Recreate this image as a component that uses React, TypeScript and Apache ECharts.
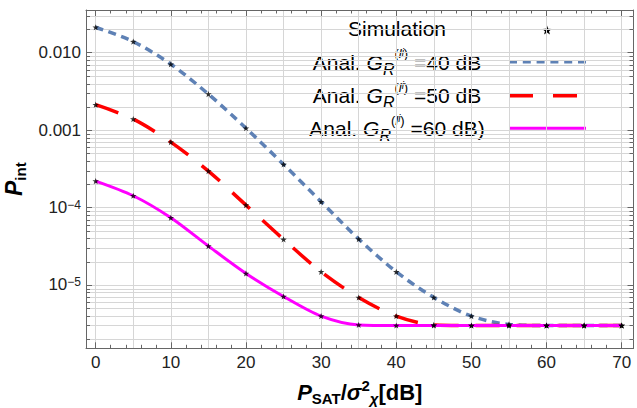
import React, { useEffect, useRef } from 'react';
import * as echarts from 'echarts';

// ---------- data ----------
const xValues = [0, 5, 10, 15, 20, 25, 30, 35, 40, 45, 50, 55, 60, 65, 70];
const pint40dB = [0.0213, 0.0139, 0.0071, 0.00292, 0.00106, 3.61e-4, 1.19e-4, 3.92e-5, 1.48e-5, 6.9e-6, 3.96e-6, 3.1e-6, 3.0e-6, 3.0e-6, 3.0e-6];
const pint50dB = [0.00213, 0.00139, 7.0e-4, 2.96e-4, 1.076e-4, 3.88e-5, 1.48e-5, 6.9e-6, 3.96e-6, 3.05e-6, 3.0e-6, 3.0e-6, 3.0e-6, 3.0e-6, 3.0e-6];
const pint60dB = [2.2e-4, 1.42e-4, 7.38e-5, 3.18e-5, 1.41e-5, 7.1e-6, 3.96e-6, 3.05e-6, 3.0e-6, 3.0e-6, 3.0e-6, 3.0e-6, 3.0e-6, 3.0e-6, 3.0e-6];

const seriesNames = ['G40', 'G50', 'G60'];
const seriesColors = ['#5E81B5', '#FF0000', '#FF00FF'];
const legendTexts = [
  '{a|Simulation}',
  '{a|Anal. }{g|G}{r|R}{sp|(}{sl|l}{si|i}{sp|)}{a| =40 dB}',
  '{a|Anal. }{g|G}{r|R}{sp|(}{sl|l}{si|i}{sp|)}{a| =50 dB}',
  '{a|Anal. }{g|G}{r|R}{sp|(}{sl|l}{si|i}{sp|)}{a| =60 dB)}',
];

// y tick labels (decades)
const yTickLabels: Record<string, string> = {
  '-2': '0.010',
  '-3': '0.001',
  '-4': '10{s|−4}',
  '-5': '10{s|−5}',
};

// minor log grid lines (2..9 x 10^k)
const minorGridValues = [
  2e-6, 3e-6, 4e-6, 5e-6, 6e-6, 7e-6, 8e-6, 9e-6,
  2e-5, 3e-5, 4e-5, 5e-5, 6e-5, 7e-5, 8e-5, 9e-5,
  2e-4, 3e-4, 4e-4, 5e-4, 6e-4, 7e-4, 8e-4, 9e-4,
  2e-3, 3e-3, 4e-3, 5e-3, 6e-3, 7e-3, 8e-3, 9e-3,
  2e-2, 3e-2,
];

const X_MIN = -1.29;
const X_MAX = 71.57;
const Y_MIN = 1.522e-6;
const Y_MAX = 0.03559;

const FONT = '"Liberation Sans", Arial, sans-serif';
const FRAME = '#666666';
const GRID = '#d6d6d6';

function starPoints(cx: number, cy: number, R: number, r: number): number[][] {
  const pts: number[][] = [];
  for (let i = 0; i < 10; i++) {
    const a = -Math.PI / 2 + (i * Math.PI) / 5;
    const rad = i % 2 === 0 ? R : r;
    pts.push([cx + rad * Math.cos(a), cy + rad * Math.sin(a)]);
  }
  return pts;
}
function starPath(cx: number, cy: number, R: number, r: number): string {
  return (
    starPoints(cx, cy, R, r)
      .map((p, i) => (i === 0 ? 'M' : 'L') + p[0].toFixed(2) + ' ' + p[1].toFixed(2))
      .join('') + 'Z'
  );
}

const STAR_SYMBOL = 'path://' + starPath(10, 10, 10, 4);

export default function App() {
  const ref = useRef<HTMLDivElement>(null);

  useEffect(() => {
    document.body.style.margin = '0';
    if (!ref.current) return;
    const chart = echarts.init(ref.current, undefined, { renderer: 'svg' });

    const pair = (arr: number[]) => xValues.map((x, i) => [x, arr[i]]);
    const simData = [...pair(pint40dB), ...pair(pint50dB), ...pair(pint60dB)];

    const commonX = {
      type: 'value' as const,
      min: X_MIN,
      max: X_MAX,
      splitNumber: 7,
    };

    const legendRich = {
      a: { fontFamily: FONT, fontSize: 21, lineHeight: 30 },
      g: { fontFamily: FONT, fontSize: 21, fontStyle: 'italic', lineHeight: 30 },
      r: { fontFamily: FONT, fontSize: 16, fontStyle: 'italic', lineHeight: 11.7, verticalAlign: 'bottom' },
      sp: { fontFamily: FONT, fontSize: 13, lineHeight: 5, verticalAlign: 'top' },
      sl: { fontFamily: FONT, fontSize: 13, fontStyle: 'italic', lineHeight: 5, verticalAlign: 'top' },
      si: { fontFamily: FONT, fontSize: 10, fontStyle: 'italic', lineHeight: 13, verticalAlign: 'top' },
    };

    // legend rows (decoration drawn with graphic elements)
    const rowY = [28.5, 62, 95.5, 128.5];
    const iconY = [30.5, 61.7, 95.7, 128.3];
    const graphic: any[] = [];
    legendTexts.forEach((t, i) => {
      graphic.push({
        type: 'text',
        x: 397,
        y: rowY[i],
        silent: true,
        style: {
          text: t,
          rich: legendRich,
          fill: '#000',
          align: 'center',
          verticalAlign: 'middle',
          fontFamily: FONT,
          fontSize: 21,
        },
      });
    });
    graphic.push({
      type: 'polygon',
      silent: true,
      shape: { points: starPoints(547, iconY[0], 5, 2.1) },
      style: { fill: '#000' },
    });
    const dashes = [[8, 5.8], [24, 20], null];
    const widths = [3.5, 3.5, 3];
    for (let k = 0; k < 3; k++) {
      graphic.push({
        type: 'line',
        silent: true,
        shape: { x1: 509, y1: iconY[k + 1], x2: 586, y2: iconY[k + 1] },
        style: {
          stroke: seriesColors[k],
          lineWidth: widths[k],
          lineDash: dashes[k] || undefined,
        },
      });
    }

    const option: any = {
      animation: false,
      backgroundColor: '#ffffff',
      grid: { left: 86, right: 3.5, top: 10, bottom: 59.7, containLabel: false, outerBoundsMode: 'none' },
      graphic,
      xAxis: [
        {
          ...commonX,
          position: 'bottom',
          axisLine: { show: true, onZero: false, lineStyle: { color: FRAME, width: 1 } },
          axisTick: { show: true, inside: true, length: 6, lineStyle: { color: FRAME } },
          minorTick: { show: true, splitNumber: 5, length: 3.5, lineStyle: { color: FRAME } },
          axisLabel: {
            fontFamily: FONT,
            fontSize: 17,
            color: '#222',
            margin: 6,
            showMinLabel: false,
            showMaxLabel: false,
            formatter: (v: number) => String(Math.round(v)),
          },
          splitLine: { show: false },
          name: '{p|P}{s|SAT}{b|/}{g|σ}{u|2}{c|χ}{b|[dB]}',
          nameLocation: 'middle',
          nameGap: 30,
          nameTextStyle: {
            rich: {
              p: { fontFamily: FONT, fontSize: 22, fontWeight: 'bold', fontStyle: 'italic', lineHeight: 28, color: '#000' },
              s: { fontFamily: FONT, fontSize: 15, fontWeight: 'bold', lineHeight: 13.2, verticalAlign: 'bottom', color: '#000' },
              b: { fontFamily: FONT, fontSize: 22, fontWeight: 'bold', lineHeight: 28, color: '#000' },
              g: { fontFamily: FONT, fontSize: 22, fontWeight: 'bold', fontStyle: 'italic', lineHeight: 28, color: '#000' },
              u: { fontFamily: FONT, fontSize: 15, fontWeight: 'bold', lineHeight: 14.8, verticalAlign: 'top', color: '#000' },
              c: { fontFamily: FONT, fontSize: 15, fontWeight: 'bold', fontStyle: 'italic', lineHeight: 12, verticalAlign: 'bottom', color: '#000' },
            },
          },
        },
        {
          ...commonX,
          position: 'top',
          axisLine: { show: true, onZero: false, lineStyle: { color: FRAME, width: 1 } },
          axisTick: { show: true, inside: true, length: 6, lineStyle: { color: FRAME } },
          minorTick: { show: true, splitNumber: 5, length: 3.5, lineStyle: { color: FRAME } },
          axisLabel: { show: false },
          splitLine: { show: false },
        },
        {
          type: 'value',
          min: X_MIN,
          max: X_MAX,
          splitNumber: 14,
          position: 'bottom',
          axisLine: { show: false },
          axisTick: { show: false },
          axisLabel: { show: false },
          splitLine: { show: true, lineStyle: { color: GRID, width: 1 } },
        },
      ],
      yAxis: [
        {
          type: 'log',
          logBase: 10,
          min: Y_MIN,
          max: Y_MAX,
          position: 'left',
          axisLine: { show: true, onZero: false, lineStyle: { color: FRAME, width: 1 } },
          axisTick: { show: true, inside: true, length: 6, lineStyle: { color: FRAME } },
          axisLabel: {
            fontFamily: FONT,
            fontSize: 17,
            color: '#222',
            margin: 5,
            showMinLabel: false,
            showMaxLabel: false,
            formatter: (v: number) => yTickLabels[String(Math.round(Math.log10(v)))] || '',
            rich: {
              s: { fontFamily: FONT, fontSize: 12, lineHeight: 11.5, verticalAlign: 'top', color: '#222' },
            },
          },
          splitLine: { show: true, lineStyle: { color: GRID, width: 1 } },
          name: '{p|P}{s|int}',
          nameLocation: 'middle',
          nameGap: 55,
          nameRotate: 90,
          nameTextStyle: {
            rich: {
              p: { fontFamily: FONT, fontSize: 23, fontWeight: 'bold', fontStyle: 'italic', lineHeight: 28, color: '#000' },
              s: { fontFamily: FONT, fontSize: 15, fontWeight: 'bold', lineHeight: 13.2, verticalAlign: 'bottom', color: '#000' },
            },
          },
        },
        {
          type: 'log',
          logBase: 10,
          min: Y_MIN,
          max: Y_MAX,
          position: 'right',
          axisLine: { show: true, onZero: false, lineStyle: { color: FRAME, width: 1 } },
          axisTick: { show: true, inside: true, length: 6, lineStyle: { color: FRAME } },
          axisLabel: { show: false },
          splitLine: { show: false },
        },
      ],
      series: [
        {
          type: 'custom',
          name: 'minorGrid',
          silent: true,
          z: 1,
          xAxisIndex: 0,
          yAxisIndex: 0,
          data: minorGridValues.map((v) => [0, v]),
          encode: { x: 0, y: 1 },
          renderItem: (params: any, api: any) => {
            const y = Math.round(api.coord([0, api.value(1)])[1]) + 0.5;
            const cs = params.coordSys;
            const x0 = cs.x;
            const x1 = cs.x + cs.width;
            return {
              type: 'group',
              children: [
                { type: 'line', shape: { x1: x0, y1: y, x2: x1, y2: y }, style: { stroke: GRID, lineWidth: 1 } },
                { type: 'line', shape: { x1: x0, y1: y, x2: x0 + 4, y2: y }, style: { stroke: FRAME, lineWidth: 1 } },
                { type: 'line', shape: { x1: x1 - 4, y1: y, x2: x1, y2: y }, style: { stroke: FRAME, lineWidth: 1 } },
              ],
            };
          },
        },
        {
          type: 'line',
          name: seriesNames[0],
          data: pair(pint40dB),
          symbol: 'none',
          smooth: 0.3,
          z: 3,
          itemStyle: { color: seriesColors[0] },
          lineStyle: { color: seriesColors[0], width: 3.5, type: [8, 5.5], cap: 'butt' },
        },
        {
          type: 'line',
          name: seriesNames[1],
          data: pair(pint50dB),
          symbol: 'none',
          smooth: 0.3,
          z: 4,
          itemStyle: { color: seriesColors[1] },
          lineStyle: { color: seriesColors[1], width: 3.5, type: [24, 17], cap: 'butt' },
        },
        {
          type: 'line',
          name: seriesNames[2],
          data: pair(pint60dB),
          symbol: 'none',
          smooth: 0.3,
          z: 5,
          itemStyle: { color: seriesColors[2] },
          lineStyle: { color: seriesColors[2], width: 3 },
        },
        {
          type: 'scatter',
          name: 'Simulation',
          data: simData,
          symbol: STAR_SYMBOL,
          symbolSize: 6.5,
          symbolKeepAspect: true,
          z: 10,
          itemStyle: { color: '#000000' },
        },
      ],
    };

    chart.setOption(option);
    return () => {
      chart.dispose();
    };
  }, []);

  return (
    <div
      ref={ref}
      style={{ position: 'fixed', left: 0, top: 0, width: 637, height: 408 }}
    />
  );
}
